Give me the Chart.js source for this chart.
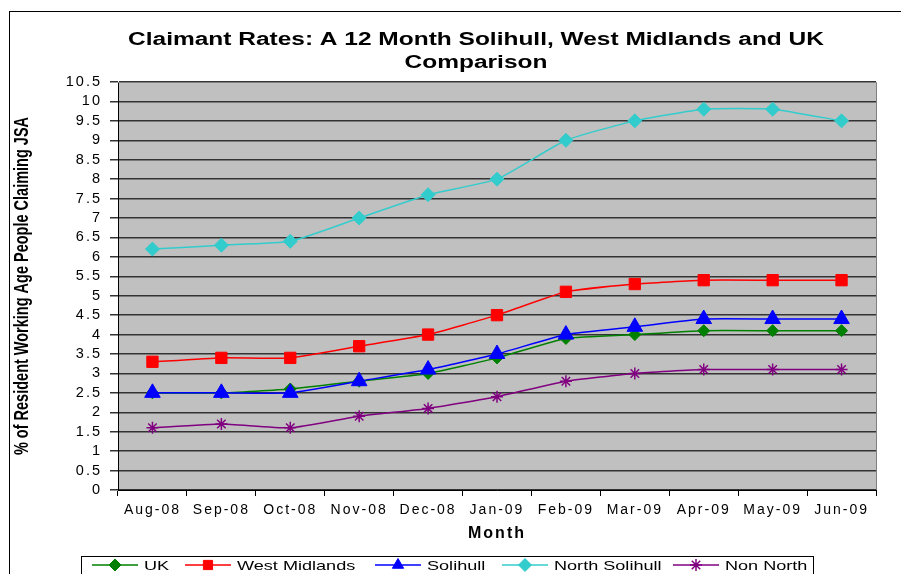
<!DOCTYPE html>
<html><head><meta charset="utf-8">
<script src="https://cdn.jsdelivr.net/npm/chart.js@4/dist/chart.umd.min.js"></script>
<style>html,body{margin:0;padding:0;background:#fff;overflow:hidden}canvas{display:block}</style>
</head><body>
<canvas id="c" width="901" height="574"></canvas>
<script>
// ---- data ----
const titleLines = ['Claimant Rates: A 12 Month Solihull, West Midlands and UK', 'Comparison'];
const xAxisTitle = 'Month';
const yAxisTitle = '% of Resident Working Age People Claiming JSA';
const months = ['Aug-08','Sep-08','Oct-08','Nov-08','Dec-08','Jan-09','Feb-09','Mar-09','Apr-09','May-09','Jun-09'];
const seriesNames = ['UK','West Midlands','Solihull','North Solihull','Non North'];
const ukValues            = [2.5, 2.5, 2.6, 2.8, 3.0, 3.4, 3.9, 4.0, 4.1, 4.1, 4.1];
const westMidlandsValues  = [3.3, 3.4, 3.4, 3.7, 4.0, 4.5, 5.1, 5.3, 5.4, 5.4, 5.4];
const solihullValues      = [2.5, 2.5, 2.5, 2.8, 3.1, 3.5, 4.0, 4.2, 4.4, 4.4, 4.4];
const northSolihullValues = [6.2, 6.3, 6.4, 7.0, 7.6, 8.0, 9.0, 9.5, 9.8, 9.8, 9.5];
const nonNorthValues      = [1.6, 1.7, 1.6, 1.9, 2.1, 2.4, 2.8, 3.0, 3.1, 3.1, 3.1];
const yMin = 0, yMax = 10.5, yStep = 0.5;

// ---- styles ----
const seriesValues = [ukValues, westMidlandsValues, solihullValues, northSolihullValues, nonNorthValues];
const styles = [
  {color:'#008000', shape:'rectRot',  r:6},
  {color:'#FF0000', shape:'rect',     r:8},
  {color:'#0000FF', shape:'triangle', r:9},
  {color:'#33CCCC', shape:'rectRot',  r:7},
  {color:'#800080', shape:'star',     r:6}
];
const STRETCH = 1.36;
const FONT = 'Arial, "Liberation Sans", sans-serif';

const datasets = seriesNames.map((name, i) => ({
  label: name,
  data: seriesValues[i],
  borderColor: styles[i].color,
  backgroundColor: styles[i].color,
  pointBackgroundColor: styles[i].color,
  pointBorderColor: styles[i].color,
  pointStyle: styles[i].shape,
  pointRadius: styles[i].r,
  pointHoverRadius: styles[i].r,
  pointBorderWidth: styles[i].shape === 'star' ? 1.5 : 1,
  borderWidth: 1.5,
  tension: 0.15,
  order: seriesNames.length - i
}));

function drawMarker(ctx, shape, r, x, y, color, bw) {
  ctx.save();
  ctx.fillStyle = color; ctx.strokeStyle = color; ctx.lineWidth = bw;
  if (Chart.helpers && Chart.helpers.drawPoint) {
    Chart.helpers.drawPoint(ctx, {pointStyle: shape, radius: r, rotation: 0, borderWidth: bw}, x, y);
  }
  ctx.restore();
}

const decor = {
  id: 'decor',
  beforeDraw(chart) {
    const {ctx, chartArea: a} = chart;
    ctx.save();
    ctx.fillStyle = '#fff'; ctx.fillRect(0, 0, chart.width, chart.height);
    ctx.fillStyle = '#C0C0C0'; ctx.fillRect(a.left, a.top, a.right - a.left, a.bottom - a.top);
    ctx.strokeStyle = '#000'; ctx.lineWidth = 1;
    ctx.strokeRect(9.5, 11.5, chart.width + 20, chart.height + 20);
    ctx.restore();
    ctx.letterSpacing = '2px';
  },
  afterDraw(chart) {
    const {ctx, chartArea: a} = chart;
    ctx.save();
    ctx.letterSpacing = '0px';
    // plot border top/right
    ctx.strokeStyle = '#808080'; ctx.lineWidth = 1;
    ctx.beginPath();
    ctx.moveTo(a.left, Math.round(a.top) + 0.5); ctx.lineTo(Math.round(a.right) + 0.5, Math.round(a.top) + 0.5);
    ctx.lineTo(Math.round(a.right) + 0.5, a.bottom);
    ctx.stroke();
    // title
    ctx.fillStyle = '#000';
    ctx.textAlign = 'center'; ctx.textBaseline = 'alphabetic';
    ctx.font = 'bold 18px ' + FONT;
    const tx = 476, tys = [45, 68];
    titleLines.forEach((t, k) => {
      ctx.save(); ctx.translate(tx, tys[k]); ctx.scale(STRETCH, 1); ctx.fillText(t, 0, 0); ctx.restore();
    });
    // y axis title
    ctx.save();
    ctx.translate(23, (a.top + a.bottom) / 2);
    ctx.rotate(-Math.PI / 2);
    ctx.scale(1, STRETCH);
    ctx.font = 'bold 14.5px ' + FONT;
    ctx.textBaseline = 'middle'; ctx.textAlign = 'center';
    ctx.fillText(yAxisTitle, 0, 0);
    ctx.restore();
    // legend
    ctx.strokeStyle = '#000'; ctx.lineWidth = 1;
    ctx.strokeRect(81.5, 556.5, 732, 40);
    const legendX = [92, 185, 375, 502, 673];
    const ly = 565;
    ctx.font = '13.3px ' + FONT;
    ctx.textAlign = 'left'; ctx.textBaseline = 'alphabetic';
    chart.data.datasets.forEach((ds, i) => {
      const x0 = legendX[i];
      ctx.strokeStyle = ds.borderColor; ctx.lineWidth = 1.5;
      ctx.beginPath(); ctx.moveTo(x0, ly); ctx.lineTo(x0 + 46, ly); ctx.stroke();
      drawMarker(ctx, ds.pointStyle, Math.min(ds.pointRadius, 6.5), x0 + 23, ly, ds.borderColor, ds.pointBorderWidth);
      ctx.fillStyle = '#000';
      ctx.save(); ctx.translate(x0 + 52, 570); ctx.scale(STRETCH, 1); ctx.fillText(ds.label, 0, 0); ctx.restore();
    });
    ctx.restore();
  }
};

new Chart(document.getElementById('c'), {
  type: 'line',
  data: { labels: months, datasets },
  plugins: [decor],
  options: {
    responsive: false,
    animation: false,
    devicePixelRatio: 1,
    layout: { padding: { top: 82, right: 25, bottom: 29, left: 0 } },
    plugins: { legend: { display: false }, title: { display: false }, tooltip: { enabled: false } },
    scales: {
      x: {
        offset: true,
        afterFit: s => { s.height = 55; },
        grid: { display: true, drawOnChartArea: false, drawTicks: true, tickLength: 6, offset: true, color: '#000' },
        border: { display: true, color: '#000', width: 1 },
        ticks: { color: '#000', font: { family: FONT, size: 14 }, padding: 6, maxRotation: 0, autoSkip: false },
        title: { display: true, text: xAxisTitle, color: '#000', font: { family: FONT, size: 16, weight: 'bold' }, padding: { top: 0, bottom: 2 } }
      },
      y: {
        min: yMin, max: yMax,
        afterFit: s => { s.width = 118; },
        grid: { color: '#333', lineWidth: 1.5, tickLength: 8, drawTicks: true },
        border: { display: true, color: '#000', width: 1 },
        ticks: { stepSize: yStep, color: '#000', font: { family: FONT, size: 14.5 }, padding: 8, autoSkip: false,
                 callback: v => String(Math.round(v * 10) / 10) },
        title: { display: false }
      }
    }
  }
});
</script>
</body></html>
